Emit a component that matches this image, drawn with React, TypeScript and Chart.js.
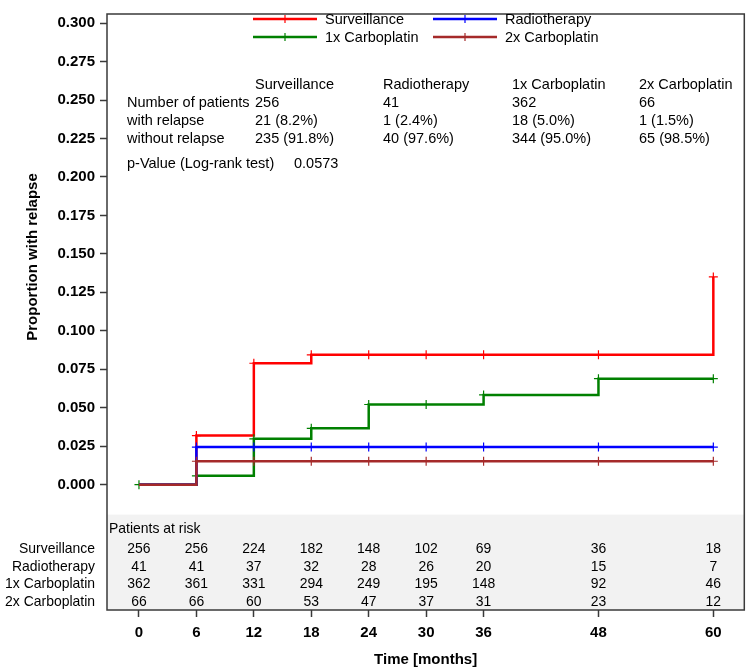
import React, { useEffect, useRef } from "react";
import { Chart, registerables } from "chart.js";

Chart.register(...registerables);

// ---------- data ----------
const times = [0, 6, 12, 18, 24, 30, 36, 48, 60];
const seriesNames = ["Surveillance", "Radiotherapy", "1x Carboplatin", "2x Carboplatin"];
const seriesColors = ["#ff0000", "#0000ff", "#008000", "#a52a2a"];

const surveillance = [0, 0.0319, 0.0789, 0.0844, 0.0844, 0.0844, 0.0844, 0.0844, 0.135];
const radiotherapy = [0, 0.0244, 0.0244, 0.0244, 0.0244, 0.0244, 0.0244, 0.0244, 0.0244];
const carbo1 = [0, 0.0057, 0.0298, 0.0366, 0.0521, 0.0521, 0.0583, 0.0689, 0.0689];
const carbo2 = [0, 0.0152, 0.0152, 0.0152, 0.0152, 0.0152, 0.0152, 0.0152, 0.0152];

// censor marker visibility at each time (0 = hidden)
const markSurveillance = [0, 1, 1, 1, 1, 1, 1, 1, 1];
const markRadiotherapy = [0, 1, 1, 1, 1, 1, 1, 1, 1];
const markCarbo1 = [1, 1, 1, 1, 1, 1, 1, 1, 1];
const markCarbo2 = [0, 1, 1, 1, 1, 1, 1, 1, 1];

const yTickValues = [0, 0.025, 0.05, 0.075, 0.1, 0.125, 0.15, 0.175, 0.2, 0.225, 0.25, 0.275, 0.3];

const riskSurveillance = [256, 256, 224, 182, 148, 102, 69, 36, 18];
const riskRadiotherapy = [41, 41, 37, 32, 28, 26, 20, 15, 7];
const riskCarbo1 = [362, 361, 331, 294, 249, 195, 148, 92, 46];
const riskCarbo2 = [66, 66, 60, 53, 47, 37, 31, 23, 12];

const statRowLabels = ["Number of patients", "with relapse", "without relapse"];
const statPatients = ["256", "41", "362", "66"];
const statWithRelapse = ["21 (8.2%)", "1 (2.4%)", "18 (5.0%)", "1 (1.5%)"];
const statWithoutRelapse = ["235 (91.8%)", "40 (97.6%)", "344 (95.0%)", "65 (98.5%)"];
const pValueLabel = "p-Value (Log-rank test)";
const pValue = "0.0573";

const yAxisTitle = "Proportion with relapse";
const xAxisTitle = "Time [months]";
const riskTitle = "Patients at risk";

const FONT = "'Liberation Sans', Arial, Helvetica, sans-serif";

const seriesValues = [surveillance, radiotherapy, carbo1, carbo2];
const seriesMarks = [markSurveillance, markRadiotherapy, markCarbo1, markCarbo2];
const riskRows = [riskSurveillance, riskRadiotherapy, riskCarbo1, riskCarbo2];

function drawCross(ctx: CanvasRenderingContext2D, x: number, y: number, r: number, color: string) {
  ctx.save();
  ctx.strokeStyle = color;
  ctx.lineWidth = 1.2;
  ctx.beginPath();
  ctx.moveTo(x - r, y);
  ctx.lineTo(x + r, y);
  ctx.moveTo(x, y - r);
  ctx.lineTo(x, y + r);
  ctx.stroke();
  ctx.restore();
}

const decorPlugin = {
  id: "kmDecor",
  beforeDatasetsDraw(chart: any) {
    const { ctx, chartArea, scales } = chart;
    // risk table background
    const yTop = scales.y.getPixelForValue(-0.0195);
    ctx.save();
    ctx.fillStyle = "#f2f2f2";
    ctx.fillRect(chartArea.left, yTop, chartArea.right - chartArea.left, chartArea.bottom - yTop);
    ctx.restore();
  },
  afterDraw(chart: any) {
    const { ctx, chartArea, scales } = chart;
    const xs = scales.x;
    ctx.save();

    // frame
    ctx.strokeStyle = "#3a3a3a";
    ctx.lineWidth = 1.5;
    ctx.strokeRect(chartArea.left, chartArea.top, chartArea.right - chartArea.left, chartArea.bottom - chartArea.top);

    // legend
    ctx.font = `14.5px ${FONT}`;
    ctx.fillStyle = "#000";
    ctx.textBaseline = "middle";
    ctx.textAlign = "left";
    const legendPos = [
      [253, 19],
      [433, 19],
      [253, 37],
      [433, 37],
    ];
    for (let i = 0; i < 4; i++) {
      const [lx, ly] = legendPos[i];
      ctx.strokeStyle = seriesColors[i];
      ctx.lineWidth = 2.5;
      ctx.beginPath();
      ctx.moveTo(lx, ly);
      ctx.lineTo(lx + 64, ly);
      ctx.stroke();
      drawCross(ctx, lx + 32, ly, 4, seriesColors[i]);
      ctx.fillStyle = "#000";
      ctx.fillText(seriesNames[i], lx + 72, ly + 1);
    }

    // statistics table
    const colX = [255, 383, 512, 639];
    const rowY = [85, 103, 121, 139];
    for (let c = 0; c < 4; c++) {
      ctx.fillText(seriesNames[c], colX[c], rowY[0]);
      ctx.fillText(statPatients[c], colX[c], rowY[1]);
      ctx.fillText(statWithRelapse[c], colX[c], rowY[2]);
      ctx.fillText(statWithoutRelapse[c], colX[c], rowY[3]);
    }
    for (let r = 0; r < statRowLabels.length; r++) {
      ctx.fillText(statRowLabels[r], 127, rowY[r + 1]);
    }
    ctx.fillText(pValueLabel, 127, 164);
    ctx.fillText(pValue, 294, 164);

    // risk table
    const riskFont = `15px ${FONT}`;
    const sx = 0.93;
    const drawScaled = (text: string, x: number, y: number, align: CanvasTextAlign) => {
      ctx.save();
      ctx.translate(x, y);
      ctx.scale(sx, 1);
      ctx.textAlign = align;
      ctx.fillText(text, 0, 0);
      ctx.restore();
    };
    ctx.font = riskFont;
    ctx.fillStyle = "#000";
    drawScaled(riskTitle, chartArea.left + 2, 529, "left");
    const riskY = [549, 567, 584, 602];
    for (let r = 0; r < 4; r++) {
      drawScaled(seriesNames[r], 95, riskY[r], "right");
      for (let i = 0; i < times.length; i++) {
        drawScaled(String(riskRows[r][i]), xs.getPixelForValue(times[i]), riskY[r], "center");
      }
    }

    // axis titles
    ctx.font = `bold 15px ${FONT}`;
    ctx.textAlign = "center";
    ctx.fillText(xAxisTitle, (chartArea.left + chartArea.right) / 2, 660);
    ctx.save();
    ctx.translate(33, 257);
    ctx.rotate(-Math.PI / 2);
    ctx.fillText(yAxisTitle, 0, 0);
    ctx.restore();

    ctx.restore();
  },
};

export default function App() {
  const canvasRef = useRef<HTMLCanvasElement | null>(null);

  useEffect(() => {
    document.body.style.margin = "0";
    const canvas = canvasRef.current;
    if (!canvas) return;

    const order = [3, 1, 2, 0];
    const datasets = seriesNames.map((name, s) => ({
      label: name,
      data: times.map((t, i) => ({ x: t, y: seriesValues[s][i] })),
      borderColor: seriesColors[s],
      backgroundColor: seriesColors[s],
      borderWidth: 2.5,
      stepped: "before" as const,
      fill: false,
      pointStyle: "cross" as const,
      pointRadius: seriesMarks[s].map((m) => (m ? 4.5 : 0)),
      pointBorderWidth: 1.2,
      pointBorderColor: seriesColors[s],
      pointHoverRadius: 0,
      order: order[s],
    }));

    const chart = new Chart(canvas, {
      type: "line",
      data: { datasets },
      plugins: [decorPlugin],
      options: {
        responsive: false,
        animation: false,
        layout: { padding: { left: 0, right: 5, top: 3, bottom: 0 } },
        plugins: {
          legend: { display: false },
          tooltip: { enabled: false },
          title: { display: false },
        },
        scales: {
          x: {
            type: "linear",
            min: -3.339,
            max: 63.235,
            afterBuildTicks: (scale: any) => {
              scale.ticks = times.map((v) => ({ value: v }));
            },
            afterFit: (scale: any) => {
              scale.height = 57;
            },
            ticks: {
              autoSkip: false,
              maxRotation: 0,
              color: "#000",
              padding: 7,
              font: { family: FONT, size: 15, weight: "bold" },
              callback: (v: any) => String(v),
            },
            grid: {
              drawOnChartArea: false,
              drawTicks: true,
              tickLength: 7,
              tickColor: "#3a3a3a",
              tickWidth: 1.5,
            },
            border: { display: false },
          },
          y: {
            type: "linear",
            min: -0.0815,
            max: 0.30594,
            afterBuildTicks: (scale: any) => {
              scale.ticks = yTickValues.map((v) => ({ value: v }));
            },
            afterFit: (scale: any) => {
              scale.width = 107;
            },
            ticks: {
              autoSkip: false,
              color: "#000",
              padding: 5,
              font: { family: FONT, size: 15, weight: "bold" },
              callback: (v: any) => Number(v).toFixed(3),
            },
            grid: {
              drawOnChartArea: false,
              drawTicks: true,
              tickLength: 7,
              tickColor: "#3a3a3a",
              tickWidth: 1.5,
            },
            border: { display: false },
          },
        },
      },
    } as any);

    return () => {
      chart.destroy();
    };
  }, []);

  return (
    <div style={{ width: 750, height: 667, background: "#fff" }}>
      <canvas ref={canvasRef} width={750} height={667} style={{ display: "block" }} />
    </div>
  );
}
